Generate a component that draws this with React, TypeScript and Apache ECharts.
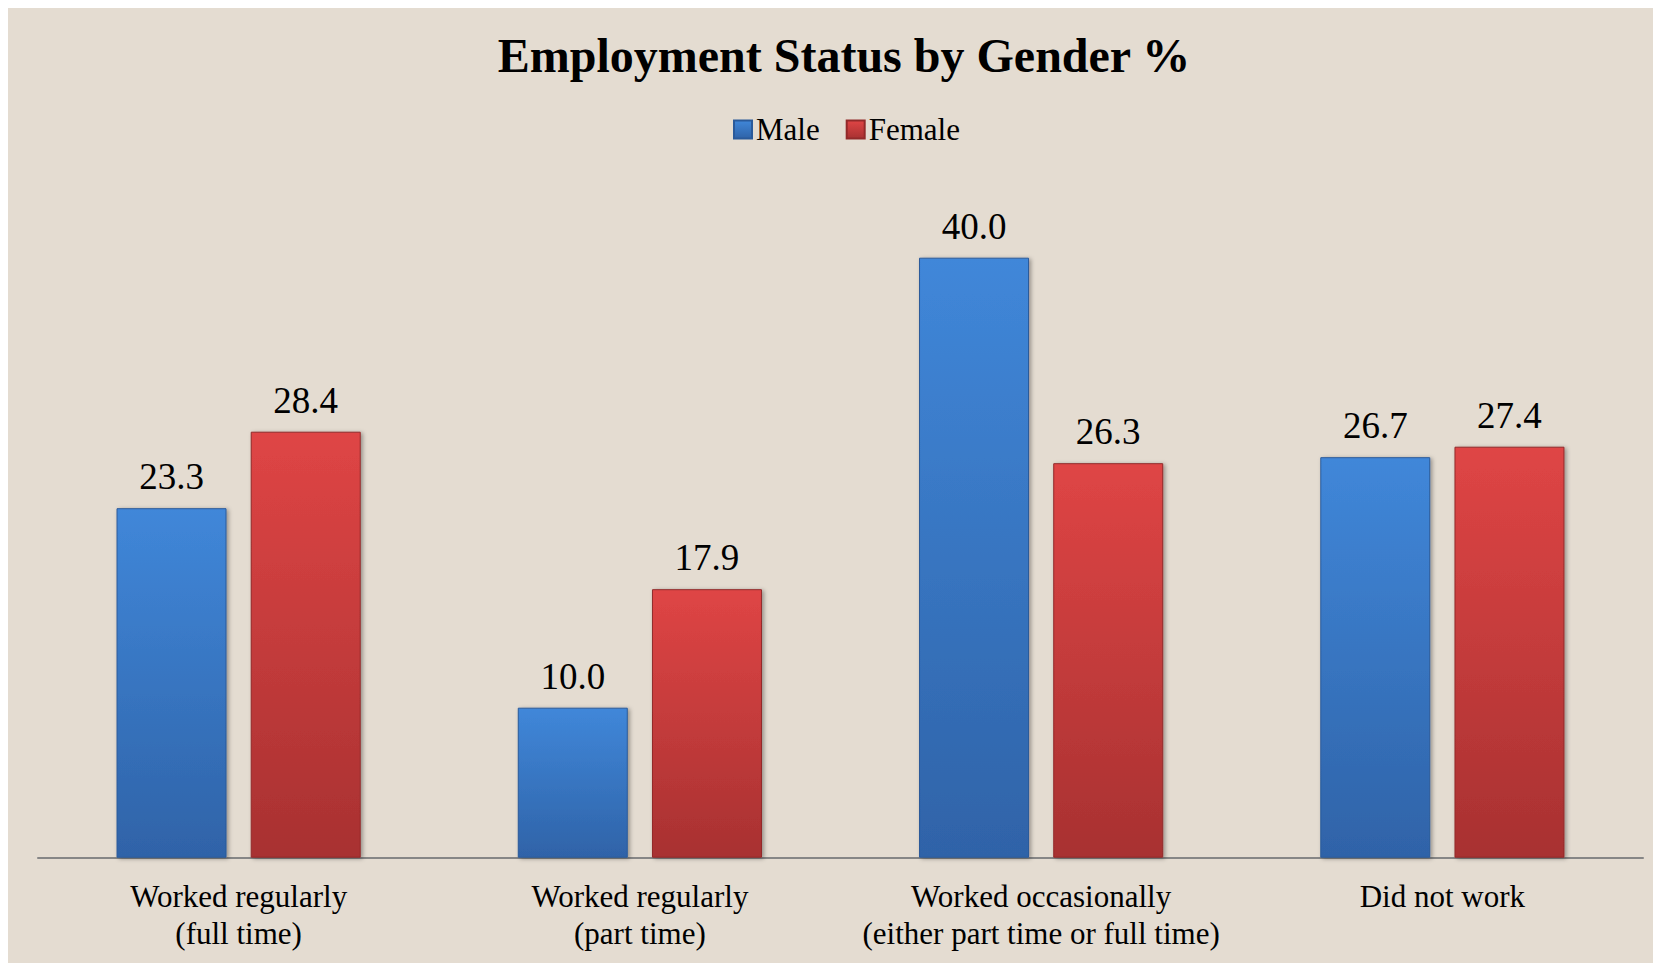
import React, { useEffect, useRef } from "react";
import * as echarts from "echarts";

const categories = [
  "Worked regularly\n(full time)",
  "Worked regularly\n(part time)",
  "Worked occasionally\n(either part time or full time)",
  "Did not work",
];
const maleValues = [23.3, 10.0, 40.0, 26.7];
const femaleValues = [28.4, 17.9, 26.3, 27.4];

const SERIF = "'Liberation Serif', 'Times New Roman', serif";

export default function App() {
  const ref = useRef<HTMLDivElement>(null);
  useEffect(() => {
    document.body.style.overflow = "hidden";
    const chart = echarts.init(ref.current!, null, { renderer: "svg" });
    const blue = new echarts.graphic.LinearGradient(0, 0, 0, 1, [
      { offset: 0, color: "#4087d9" },
      { offset: 1, color: "#2f63a8" },
    ]);
    const red = new echarts.graphic.LinearGradient(0, 0, 0, 1, [
      { offset: 0, color: "#df4545" },
      { offset: 1, color: "#a83131" },
    ]);
    const label = {
      show: true,
      position: "top" as const,
      distance: 13,
      fontFamily: SERIF,
      fontSize: 37,
      color: "#000",
      formatter: (p: any) => Number(p.value).toFixed(1),
    };
    chart.setOption({
      animation: false,
      backgroundColor: "#e4dcd1",
      title: {
        text: "Employment Status by Gender %",
        left: 831,
        textAlign: "center",
        top: 18,
        textStyle: { fontFamily: SERIF, fontSize: 48, fontWeight: "bold", color: "#000" },
      },
      legend: {
        left: 720,
        top: 101,
        itemWidth: 18,
        itemHeight: 18,
        itemGap: 26,
        icon: "rect",
        textStyle: { fontFamily: SERIF, fontSize: 31, color: "#000", padding: [0, 0, 0, -1] },
        data: ["Male", "Female"],
      },
      grid: { left: 30, right: 18, top: 174.7, bottom: 105.3 },
      xAxis: {
        type: "category",
        data: categories,
        axisLine: { lineStyle: { color: "#868686", width: 2 } },
        axisTick: { show: false },
        axisLabel: {
          fontFamily: SERIF,
          fontSize: 31,
          lineHeight: 37,
          color: "#000",
          margin: 20,
          interval: 0,
        },
      },
      yAxis: {
        type: "value",
        min: 0,
        max: 45,
        show: false,
        splitLine: { show: false },
      },
      series: [
        {
          name: "Male",
          type: "bar",
          data: maleValues,
          barWidth: 110,
          barGap: "22%",
          itemStyle: {
            color: blue,
            borderColor: "#2a5a9a",
            borderWidth: 1,
            shadowColor: "rgba(0,0,0,0.35)",
            shadowBlur: 4,
            shadowOffsetX: 2,
            shadowOffsetY: 1,
          },
          label,
        },
        {
          name: "Female",
          type: "bar",
          data: femaleValues,
          barWidth: 110,
          itemStyle: {
            color: red,
            borderColor: "#922a2a",
            borderWidth: 1,
            shadowColor: "rgba(0,0,0,0.35)",
            shadowBlur: 4,
            shadowOffsetX: 2,
            shadowOffsetY: 1,
          },
          label,
        },
      ],
    });
    return () => chart.dispose();
  }, []);
  return <div ref={ref} style={{ width: 1653, height: 955 }} />;
}
